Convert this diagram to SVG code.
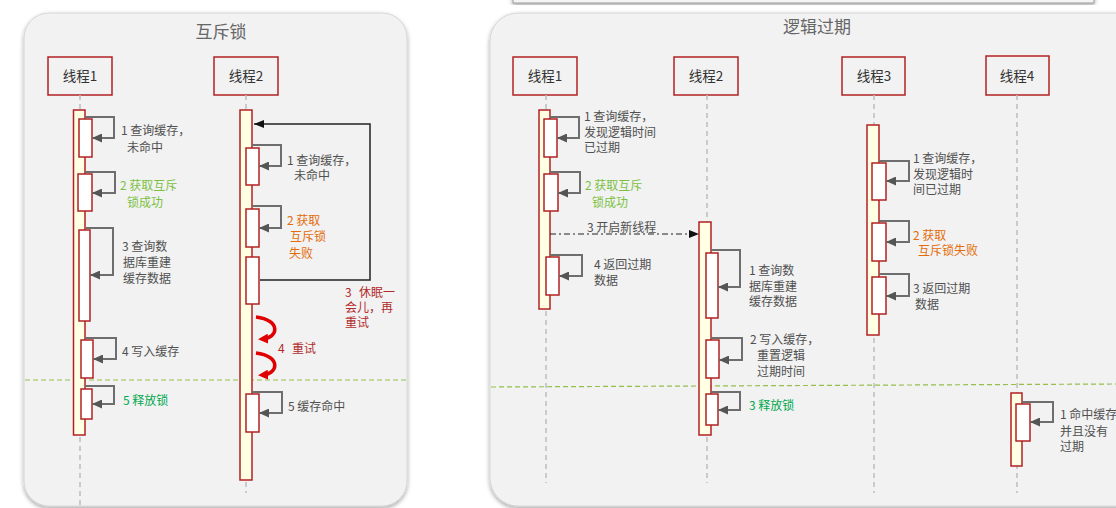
<svg xmlns="http://www.w3.org/2000/svg" width="1116" height="508" viewBox="0 0 1116 508">
<style>
.panel{fill:#f2f2f2;stroke:#d6d6d6;stroke-width:1}
.title{font-family:"Noto Sans CJK SC","Noto Sans",sans-serif;font-size:17px;fill:#666;text-anchor:middle}
.head{fill:none;stroke:#b22222;stroke-width:1.5}
.headt{font-family:"Noto Sans CJK SC","Noto Sans",sans-serif;font-size:13.5px;fill:#333;text-anchor:middle}
.life{stroke:#bdbdbd;stroke-width:1.5;stroke-dasharray:5 4;fill:none}
.act{fill:#ffffe3;stroke:#b22222;stroke-width:1.5}
.box{fill:#fff;stroke:#b22222;stroke-width:1.5}
.self{fill:none;stroke:#6e6e6e;stroke-width:2;marker-end:url(#ag)}
.lbl{font-family:"Noto Sans CJK SC","Noto Sans",sans-serif;font-size:12px;fill:#505050}
.green{fill:#7cc142}
.dgreen{fill:#00a84f}
.orange{fill:#e46c0a}
.dred{fill:#b22a2a}
.sep{stroke:#93bf4a;stroke-width:1.2;stroke-dasharray:5 3;fill:none}
</style>
<defs>
<filter id="sh" x="-5%" y="-5%" width="110%" height="110%">
<feDropShadow dx="0" dy="2" stdDeviation="2" flood-color="#000" flood-opacity="0.35"/>
</filter>
<marker id="ag" markerUnits="userSpaceOnUse" markerWidth="10" markerHeight="9" refX="10" refY="4.5" orient="auto">
<path d="M0,0 L10,4.5 L0,9 z" fill="#555"/>
</marker>
<marker id="ab" markerUnits="userSpaceOnUse" markerWidth="10" markerHeight="8" refX="10" refY="4" orient="auto">
<path d="M0,0 L10,4 L0,8 z" fill="#111"/>
</marker>
<marker id="ar" markerUnits="userSpaceOnUse" markerWidth="10" markerHeight="10" refX="6" refY="5" orient="auto">
<path d="M0,0 L10,5 L0,10 z" fill="#e00000"/>
</marker>
</defs>

<g id="topbar">
<rect x="513" y="-20" width="581" height="23" fill="#f4f4f4" stroke="#9a9a9a" stroke-width="1" filter="url(#sh)"/>
</g>

<g id="panel-mutex">
<rect class="panel" x="24" y="13" width="383" height="493" rx="25" filter="url(#sh)"/>
<text class="title" x="221" y="38">互斥锁</text>
</g>

<g id="panel-logic">
<rect class="panel" x="490" y="13" width="680" height="493" rx="28" filter="url(#sh)"/>
<text class="title" x="817" y="33">逻辑过期</text>
</g>

<g id="separators">
<line class="sep" x1="25" y1="380" x2="407" y2="380"/>
<line class="sep" x1="491" y1="387" x2="1116" y2="384"/>
</g>

<g id="m-thread1">
<rect class="head" x="48" y="57" width="64" height="38"/>
<text class="headt" x="80" y="81">线程1</text>
<line class="life" x1="80" y1="95" x2="80" y2="507"/>
<rect class="act" x="73.5" y="110" width="11.5" height="325"/>
<rect class="box" x="79" y="119" width="13" height="38"/>
<rect class="box" x="78" y="174" width="14" height="37"/>
<rect class="box" x="79" y="230" width="11" height="91"/>
<rect class="box" x="81" y="340" width="12" height="38"/>
<rect class="box" x="81" y="389" width="11" height="30"/>
</g>

<g id="m-thread2">
<rect class="head" x="214" y="57" width="64" height="38"/>
<text class="headt" x="246" y="81">线程2</text>
<line class="life" x1="246" y1="95" x2="246" y2="493"/>
<rect class="act" x="240" y="110" width="12" height="370"/>
<rect class="box" x="246" y="148" width="13" height="37"/>
<rect class="box" x="246" y="209" width="13" height="38"/>
<rect class="box" x="246" y="257" width="13" height="47"/>
<rect class="box" x="246" y="394" width="13" height="38"/>
</g>

<g id="l-thread1">
<rect class="head" x="513" y="57" width="64" height="38"/>
<text class="headt" x="545" y="81">线程1</text>
<line class="life" x1="546" y1="95" x2="546" y2="483"/>
<rect class="act" x="539" y="110" width="11" height="199"/>
<rect class="box" x="544" y="119" width="13" height="38"/>
<rect class="box" x="544" y="174" width="14" height="37"/>
<rect class="box" x="546" y="257" width="13" height="38"/>
</g>

<g id="l-thread2">
<rect class="head" x="674" y="57" width="64" height="38"/>
<text class="headt" x="706" y="81">线程2</text>
<line class="life" x1="707" y1="95" x2="707" y2="483"/>
<rect class="act" x="699" y="222" width="12" height="213"/>
<rect class="box" x="706" y="253" width="12" height="65"/>
<rect class="box" x="706" y="340" width="13" height="38"/>
<rect class="box" x="706" y="394" width="12" height="31"/>
</g>

<g id="l-thread3">
<rect class="head" x="842" y="57" width="63" height="38"/>
<text class="headt" x="874" y="81">线程3</text>
<line class="life" x1="874" y1="95" x2="874" y2="493"/>
<rect class="act" x="867" y="125" width="12" height="210"/>
<rect class="box" x="872" y="163" width="14" height="37"/>
<rect class="box" x="872" y="223" width="14" height="38"/>
<rect class="box" x="872" y="277" width="14" height="37"/>
</g>

<g id="l-thread4">
<rect class="head" x="986" y="56" width="63" height="39"/>
<text class="headt" x="1017" y="81">线程4</text>
<line class="life" x1="1017" y1="95" x2="1017" y2="493"/>
<rect class="act" x="1011" y="393" width="11" height="73"/>
<rect class="box" x="1016" y="404" width="14" height="37"/>
</g>

<g id="connectors">
<path class="self" d="M85,117 H114 V138 H92"/>
<path class="self" d="M85,172 H115 V193 H92"/>
<path class="self" d="M86,228 H113 V275 H90"/>
<path class="self" d="M85,338 H116 V359 H93"/>
<path class="self" d="M85,386 H114 V404 H92"/>
<path class="self" d="M252,145 H281 V166 H259"/>
<path class="self" d="M252,206 H281 V228 H259"/>
<path class="self" d="M252,392 H282 V413 H259"/>
<path d="M260,280 H370 V124 H254" fill="none" stroke="#222" stroke-width="1.5" marker-end="url(#ab)"/>
<path d="M256,317 C281,320 279,338 262,339" fill="none" stroke="#e00000" stroke-width="3.5" marker-end="url(#ar)"/>
<path d="M256,353 C281,356 279,374 262,375" fill="none" stroke="#e00000" stroke-width="3.5" marker-end="url(#ar)"/>
<path class="self" d="M550,117 H579 V138 H557"/>
<path class="self" d="M550,172 H580 V193 H558"/>
<path class="self" d="M550,255 H582 V276 H559"/>
<path d="M550,234 H699" fill="none" stroke="#222" stroke-width="1.2" stroke-dasharray="6 3 2 3" marker-end="url(#ab)"/>
<path class="self" d="M711,250 H740 V287 H718"/>
<path class="self" d="M711,338 H742 V360 H719"/>
<path class="self" d="M711,392 H740 V410 H718"/>
<path class="self" d="M879,161 H909 V181 H886"/>
<path class="self" d="M879,221 H909 V242 H886"/>
<path class="self" d="M879,274 H909 V296 H886"/>
<path class="self" d="M1022,402 H1053 V422 H1030"/>
</g>

<g id="labels">
<text class="lbl" x="121" y="134.5">1 查询缓存，</text>
<text class="lbl" x="127" y="151.5">未命中</text>
<text class="lbl green" x="120" y="190">2 获取互斥</text>
<text class="lbl green" x="127" y="206.5">锁成功</text>
<text class="lbl" x="122" y="251">3 查询数</text>
<text class="lbl" x="123" y="267">据库重建</text>
<text class="lbl" x="123" y="283">缓存数据</text>
<text class="lbl" x="122" y="356">4 写入缓存</text>
<text class="lbl dgreen" x="123" y="404.5">5 释放锁</text>

<text class="lbl" x="287" y="164.5">1 查询缓存，</text>
<text class="lbl" x="294" y="180">未命中</text>
<text class="lbl orange" x="287" y="224.5">2 获取</text>
<text class="lbl orange" x="290" y="241">互斥锁</text>
<text class="lbl orange" x="289" y="257.5">失败</text>
<text class="lbl dred" x="345" y="296.5">3</text>
<text class="lbl dred" x="359" y="296.5">休眠一</text>
<text class="lbl dred" x="345" y="311.5">会儿，再</text>
<text class="lbl dred" x="345" y="326.5">重试</text>
<text class="lbl dred" x="278" y="352.5">4</text>
<text class="lbl dred" x="292" y="352.5">重试</text>
<text class="lbl" x="288" y="411">5 缓存命中</text>

<text class="lbl" x="584" y="120.5">1 查询缓存，</text>
<text class="lbl" x="584" y="136.5">发现逻辑时间</text>
<text class="lbl" x="584" y="151.5">已过期</text>
<text class="lbl green" x="585" y="189.5">2 获取互斥</text>
<text class="lbl green" x="592" y="206.5">锁成功</text>
<text class="lbl" x="587" y="231.5">3 开启新线程</text>
<text class="lbl" x="594" y="268.5">4 返回过期</text>
<text class="lbl" x="594" y="284.5">数据</text>

<text class="lbl" x="749" y="274.5">1 查询数</text>
<text class="lbl" x="749" y="290.5">据库重建</text>
<text class="lbl" x="749" y="305.5">缓存数据</text>
<text class="lbl" x="750" y="343.5">2 写入缓存，</text>
<text class="lbl" x="757" y="359.5">重置逻辑</text>
<text class="lbl" x="757" y="375.5">过期时间</text>
<text class="lbl dgreen" x="749" y="410">3 释放锁</text>

<text class="lbl" x="913" y="162.5">1 查询缓存，</text>
<text class="lbl" x="913" y="178.5">发现逻辑时</text>
<text class="lbl" x="913" y="193.5">间已过期</text>
<text class="lbl orange" x="913" y="239.5">2 获取</text>
<text class="lbl orange" x="918" y="254.5">互斥锁失败</text>
<text class="lbl" x="913" y="292.5">3 返回过期</text>
<text class="lbl" x="915" y="308.5">数据</text>

<text class="lbl" x="1060" y="418.5">1 命中缓存</text>
<text class="lbl" x="1060" y="435.5">并且没有</text>
<text class="lbl" x="1060" y="451">过期</text>
</g>
</svg>
